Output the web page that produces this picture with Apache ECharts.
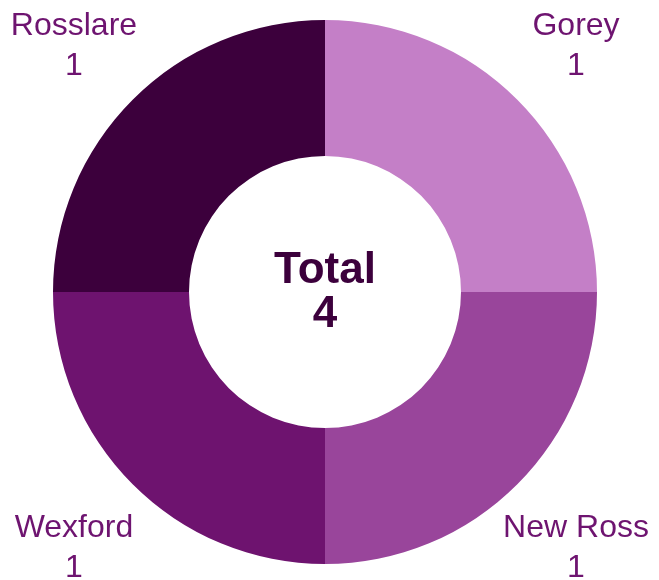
<!DOCTYPE html>
<html>
<head>
<meta charset="utf-8">
<style>
  html, body { margin: 0; padding: 0; background: #fff; }
  #chart { width: 659px; height: 580px; }
</style>
<script src="https://cdn.jsdelivr.net/npm/echarts@6/dist/echarts.min.js"></script>
</head>
<body>
<div id="chart"></div>
<script>
const towns = ['Gorey', 'New Ross', 'Wexford', 'Rosslare']
const counts = [1, 1, 1, 1]
const sliceColors = ['#c47fc7', '#99459b', '#6e136f', '#3c003c']

const cx = 325
const cy = 292
const labelR = 355
const total = counts.reduce((a, b) => a + b, 0)

// mid angle of each slice, clockwise from top
const midAngles = []
let acc = 0
counts.forEach(v => {
  midAngles.push(90 - (acc + v / 2) / total * 360)
  acc += v
})

const chart = echarts.init(document.getElementById('chart'))
chart.setOption({
  animation: false,
  textStyle: { fontFamily: 'Liberation Sans' },
  title: {
    text: 'Total\n' + total,
    left: cx,
    top: cy + 1,
    padding: 0,
    textAlign: 'center',
    textVerticalAlign: 'middle',
    textStyle: {
      fontFamily: 'Liberation Sans',
      fontSize: 44,
      fontWeight: 'bold',
      lineHeight: 44,
      color: '#3c003c'
    }
  },
  series: [
    {
      type: 'pie',
      center: [cx, cy],
      radius: [136, 272],
      startAngle: 90,
      clockwise: true,
      silent: true,
      itemStyle: { borderWidth: 0 },
      labelLine: { show: false },
      label: {
        show: true,
        position: 'outside',
        formatter: '{b}\n{c}',
        fontFamily: 'Liberation Sans',
        fontSize: 32,
        lineHeight: 40,
        overflow: 'none',
        color: '#6e1470'
      },
      labelLayout: function (params) {
        const a = midAngles[params.dataIndex] * Math.PI / 180
        return {
          x: cx + labelR * Math.cos(a),
          y: cy - labelR * Math.sin(a) + 5,
          align: 'center',
          verticalAlign: 'middle'
        }
      },
      data: towns.map((name, i) => ({
        name: name,
        value: counts[i],
        itemStyle: { color: sliceColors[i] }
      }))
    }
  ]
})
</script>
</body>
</html>
